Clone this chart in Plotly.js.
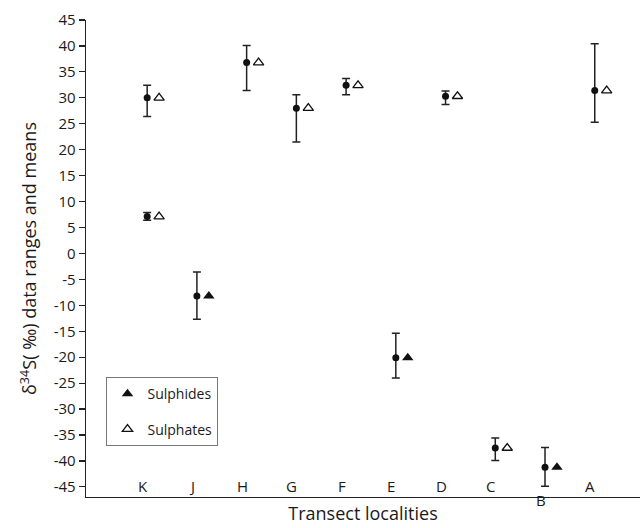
<!DOCTYPE html>
<html>
<head>
<meta charset="utf-8">
<script src="https://cdn.plot.ly/plotly-3.0.1.min.js"></script>
<style>html,body{margin:0;padding:0;background:#fff;}#chart{width:640px;height:528px;}</style>
</head>
<body>
<div id="chart"></div>
<script>
// Transect localities, in axis order
var localities = ['K', 'J', 'H', 'G', 'F', 'E', 'D', 'C', 'B', 'A'];
// Individual samples (K has two)
var sampleLocality = ['K', 'K', 'J', 'H', 'G', 'F', 'E', 'D', 'C', 'B', 'A'];
var sampleType = ['Sulphates', 'Sulphates', 'Sulphides', 'Sulphates', 'Sulphates', 'Sulphates', 'Sulphides', 'Sulphates', 'Sulphates', 'Sulphides', 'Sulphates'];
var sampleMean = [30.0, 7.1, -8.2, 36.8, 28.0, 32.4, -20.1, 30.3, -37.5, -41.2, 31.4];
var sampleMax = [32.4, 7.9, -3.6, 40.1, 30.6, 33.7, -15.4, 31.3, -35.6, -37.4, 40.4];
var sampleMin = [26.4, 6.4, -12.7, 31.4, 21.5, 30.6, -24.0, 28.7, -39.9, -44.9, 25.3];
var yTicks = [45, 40, 35, 30, 25, 20, 15, 10, 5, 0, -5, -10, -15, -20, -25, -30, -35, -40, -45];

var DOT_OFF = 0.09, TRI_OFF = 0.33;
function idx(l) { return localities.indexOf(l); }

var dotX = sampleLocality.map(function (l) { return idx(l) + DOT_OFF; });
var traces = [{
  type: 'scatter', mode: 'markers', showlegend: false, hoverinfo: 'skip',
  x: dotX, y: sampleMean, cliponaxis: false,
  marker: { symbol: 'circle', size: 7, color: '#111' },
  error_y: {
    type: 'data', symmetric: false,
    array: sampleMax.map(function (v, i) { return v - sampleMean[i]; }),
    arrayminus: sampleMin.map(function (v, i) { return sampleMean[i] - v; }),
    color: '#222', thickness: 1.5, width: 4
  }
}];

['Sulphides', 'Sulphates'].forEach(function (t, k) {
  var xs = [], ys = [];
  sampleType.forEach(function (s, i) {
    if (s === t) { xs.push(idx(sampleLocality[i]) + TRI_OFF); ys.push(sampleMean[i]); }
  });
  traces.push({
    type: 'scatter', mode: 'markers', name: t, x: xs, y: ys, cliponaxis: false,
    legendgroup: t,
    marker: t === 'Sulphides'
      ? { symbol: 'triangle-up', size: 10, color: '#111', line: { width: 0 } }
      : { symbol: 'triangle-up-open', size: 9, color: '#111', line: { width: 1.3 } }
  });
});

var annotations = localities.map(function (l, i) {
  return {
    xref: 'x', yref: 'paper', x: i, y: l === 'B' ? -0.006 : -0.002,
    yanchor: l === 'B' ? 'middle' : 'bottom', xanchor: 'center',
    text: l, showarrow: false,
    font: { family: 'Open Sans, Noto Sans, sans-serif', size: 15, color: '#1a1a1a' }
  };
});

var layout = {
  width: 640, height: 528,
  margin: { l: 86, r: 0, t: 20, b: 31 },
  paper_bgcolor: '#fff', plot_bgcolor: '#fff',
  font: { family: 'Open Sans, Noto Sans, sans-serif', color: '#1a1a1a' },
  showlegend: true,
  legend: {
    x: 0.037, y: 0.251, xanchor: 'left', yanchor: 'top',
    bordercolor: '#777', borderwidth: 1, bgcolor: '#fff',
    font: { size: 14, color: '#1a1a1a' },
    traceorder: 'grouped', tracegroupgap: 14,
    itemwidth: 30
  },
  xaxis: {
    range: [-1.14, 10.0], showgrid: false, zeroline: false,
    showticklabels: false, ticks: '',
    showline: true, linecolor: '#222', linewidth: 1.3,
    title: { text: 'Transect localities', standoff: 10,
      font: { size: 18, color: '#1a1a1a' } }
  },
  yaxis: {
    range: [-46.95, 45], showgrid: false, zeroline: false,
    tickvals: yTicks, ticktext: yTicks.map(String),
    ticks: 'outside', ticklen: 6, tickwidth: 1.2, tickcolor: '#222',
    tickfont: { size: 15, color: '#1a1a1a' },
    showline: true, linecolor: '#222', linewidth: 1.3,
    title: { text: 'δ<sup>34</sup>S( ‰) data ranges and means', standoff: 12,
      font: { size: 18, color: '#1a1a1a' } }
  },
  annotations: annotations
};

Plotly.newPlot('chart', traces, layout, { displayModeBar: false, staticPlot: true });
</script>
</body>
</html>
